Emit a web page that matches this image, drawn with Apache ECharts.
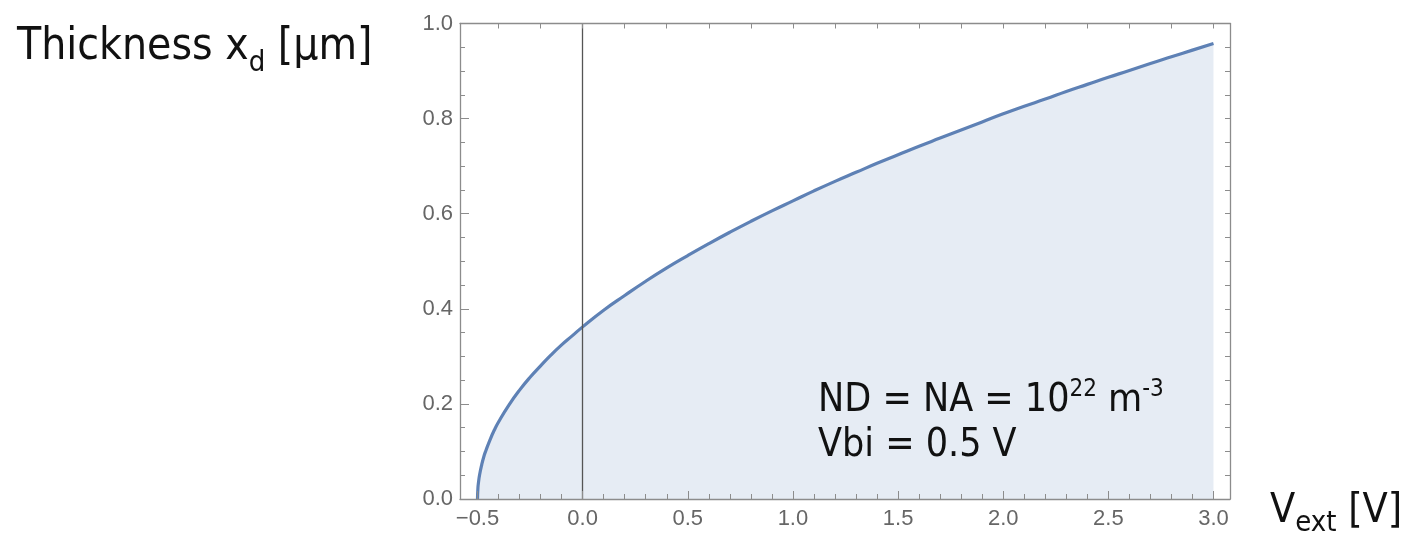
<!DOCTYPE html>
<html>
<head>
<meta charset="utf-8">
<script src="https://cdn.jsdelivr.net/npm/echarts@6/dist/echarts.min.js"></script>
<style>
html,body{margin:0;padding:0;background:#fff;}
#c{width:1409px;height:536px;}
</style>
</head>
<body>
<div id="c"></div>
<script>
// External voltage V_ext [V]
const vext = [-0.5, -0.498, -0.495, -0.49, -0.48, -0.47, -0.46, -0.44, -0.42, -0.4,
  -0.35, -0.3, -0.25, -0.2, -0.15, -0.1, -0.05,
  0.0, 0.1, 0.2, 0.3, 0.4, 0.5, 0.6, 0.7, 0.8, 0.9, 1.0,
  1.1, 1.2, 1.3, 1.4, 1.5, 1.6, 1.7, 1.8, 1.9, 2.0,
  2.1, 2.2, 2.3, 2.4, 2.5, 2.6, 2.7, 2.8, 2.9, 3.0];
// Depletion thickness x_d [µm]
const thickness = [0.000, 0.023, 0.036, 0.051, 0.072, 0.089, 0.102, 0.125, 0.145, 0.162,
  0.198, 0.229, 0.256, 0.280, 0.303, 0.324, 0.343,
  0.362, 0.397, 0.428, 0.458, 0.486, 0.512, 0.537, 0.561, 0.584, 0.606, 0.627,
  0.648, 0.668, 0.687, 0.706, 0.724, 0.742, 0.759, 0.776, 0.793, 0.810,
  0.826, 0.841, 0.857, 0.872, 0.887, 0.901, 0.916, 0.930, 0.944, 0.958];
const xMinFrame = -0.581, xMaxFrame = 3.074;
const xMinTick = -0.5, xMaxTick = 3.0;
const yMin = 0, yMax = 1;

const frameColor = '#8c8c8c';
const labelFont = 'Liberation Sans';
const textFont = '"DejaVu Sans Condensed", "DejaVu Sans", sans-serif';
const fmt = v => v.toFixed(1).replace('-', '\u2212');
const txt = (size, extra) => Object.assign({fontSize: size, fontFamily: textFont, fontWeight: 'normal', color: '#111'}, extra || {});

const chart = echarts.init(document.getElementById('c'), null, {renderer: 'canvas'});
chart.setOption({
  animation: false,
  backgroundColor: '#ffffff',
  title: [
    {
      left: 17, top: 18, padding: 0,
      text: '{a|Thickness x}{s|d}{a| [μm]}',
      textStyle: {
        fontWeight: 'normal',
        rich: {
          a: txt(44, {lineHeight: 60}),
          s: txt(29, {lineHeight: 43, verticalAlign: 'bottom'})
        }
      }
    },
    {
      left: 818, top: 378, padding: 0,
      text: '{a|ND = NA = 10}{p|22}{a| m}{p|-3}\n{a|Vbi = 0.5 V}',
      textStyle: {
        fontWeight: 'normal',
        rich: {
          a: txt(39, {lineHeight: 45}),
          p: txt(24, {lineHeight: 34, verticalAlign: 'top'})
        }
      }
    },
    {
      left: 1270, top: 484, padding: 0,
      text: '{a|V}{s|ext}{a| [V]}',
      textStyle: {
        fontWeight: 'normal',
        rich: {
          a: txt(41, {lineHeight: 54}),
          s: txt(29, {lineHeight: 40, verticalAlign: 'bottom'})
        }
      }
    }
  ],
  grid: [
    {left: 477.5, right: 195.5, top: 23.5, bottom: 37},
    {left: 460, right: 179, top: 23.5, bottom: 37},
    {left: 498.5, right: 195.5, top: 23.5, bottom: 37}
  ],
  xAxis: [
    {
      gridIndex: 0, type: 'value', min: xMinTick, max: xMaxTick, interval: 0.5,
      axisLine: {show: false},
      axisTick: {show: true, inside: true, length: 8, lineStyle: {color: frameColor, width: 1}},
      minorTick: {show: true, splitNumber: 5, length: 5, lineStyle: {color: frameColor, width: 1}},
      axisLabel: {show: true, margin: 9, fontSize: 22, fontFamily: labelFont, color: '#666', formatter: fmt},
      splitLine: {show: false}, z: 5
    },
    {
      gridIndex: 1, type: 'value', min: xMinFrame, max: xMaxFrame, position: 'bottom',
      axisLine: {show: true, lineStyle: {color: frameColor, width: 1.3}},
      axisTick: {show: false}, axisLabel: {show: false}, splitLine: {show: false}, z: 5
    },
    {
      gridIndex: 1, type: 'value', min: xMinFrame, max: xMaxFrame, position: 'top',
      axisLine: {show: true, onZero: false, lineStyle: {color: frameColor, width: 1.3}},
      axisTick: {show: false}, axisLabel: {show: false}, splitLine: {show: false}, z: 5
    },
    {
      gridIndex: 2, type: 'value', min: -0.4, max: xMaxTick, interval: 0.2, position: 'top',
      axisLine: {show: false, onZero: false},
      axisTick: {show: true, inside: true, length: 5, lineStyle: {color: frameColor, width: 1}},
      axisLabel: {show: false}, splitLine: {show: false}, z: 5
    }
  ],
  yAxis: [
    {gridIndex: 0, type: 'value', min: yMin, max: yMax, show: false},
    {
      gridIndex: 1, type: 'value', min: yMin, max: yMax, interval: 0.2, position: 'left',
      axisLine: {show: true, onZero: false, lineStyle: {color: frameColor, width: 1.3}},
      axisTick: {show: true, inside: true, length: 9, lineStyle: {color: frameColor, width: 1}},
      minorTick: {show: true, splitNumber: 4, length: 5, lineStyle: {color: frameColor, width: 1}},
      axisLabel: {show: true, margin: 7, fontSize: 22, fontFamily: labelFont, color: '#666', formatter: fmt},
      splitLine: {show: false}, z: 5
    },
    {
      gridIndex: 1, type: 'value', min: yMin, max: yMax, interval: 0.05, position: 'right',
      axisLine: {show: true, onZero: false, lineStyle: {color: frameColor, width: 1.3}},
      axisTick: {show: true, inside: true, length: 5, lineStyle: {color: frameColor, width: 1}},
      axisLabel: {show: false}, splitLine: {show: false}, z: 5
    },
    {gridIndex: 2, type: 'value', min: yMin, max: yMax, show: false}
  ],
  series: [
    {
      type: 'line', xAxisIndex: 0, yAxisIndex: 0,
      data: vext.map((v, i) => [v, thickness[i]]),
      smooth: true, showSymbol: false, symbol: 'none',
      lineStyle: {color: '#5e81b5', width: 3.2},
      areaStyle: {color: 'rgba(94,129,181,0.22)', origin: 'start'},
      z: 3,
      markLine: {
        silent: true, symbol: ['none', 'none'], animation: false,
        label: {show: false},
        lineStyle: {color: '#555', width: 1.3, type: 'solid'},
        data: [{xAxis: 0}]
      }
    }
  ]
});
</script>
</body>
</html>
